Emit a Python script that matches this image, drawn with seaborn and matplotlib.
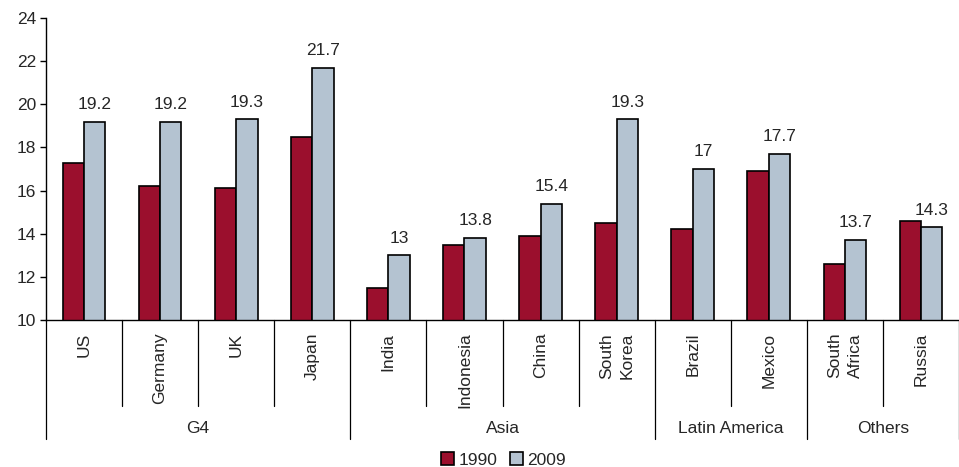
import matplotlib
matplotlib.use("Agg")
import matplotlib.pyplot as plt
import seaborn as sns
import pandas as pd
from matplotlib.patches import Patch

countries = ["US", "Germany", "UK", "Japan", "India", "Indonesia", "China",
             "South\nKorea", "Brazil", "Mexico", "South\nAfrica", "Russia"]
values_1990 = [17.3, 16.2, 16.1, 18.5, 11.5, 13.5, 13.9, 14.5, 14.2, 16.9, 12.6, 14.6]
values_2009 = [19.2, 19.2, 19.3, 21.7, 13.0, 13.8, 15.4, 19.3, 17.0, 17.7, 13.7, 14.3]
label_2009 = ["19.2", "19.2", "19.3", "21.7", "13", "13.8", "15.4", "19.3",
              "17", "17.7", "13.7", "14.3"]
groups = ["G4", "Asia", "Latin America", "Others"]
group_sizes = [4, 4, 2, 2]
years = ["1990", "2009"]
colors = ["#9B0F2D", "#B4C3D1"]

df = pd.DataFrame({
    "country": countries * 2,
    "value": values_1990 + values_2009,
    "year": ["1990"] * len(countries) + ["2009"] * len(countries),
})

sns.set_style("white")
plt.rcParams["font.family"] = ["Liberation Sans", "DejaVu Sans"]
FS = 12.5
plt.rcParams["font.size"] = FS

fig = plt.figure(figsize=(9.59, 4.67), dpi=100)
ax = fig.add_axes([46 / 959, 1 - 320 / 467, 1 - 46 / 959, (320 - 18) / 467])

sns.barplot(data=df, x="country", y="value", hue="year", order=countries,
            hue_order=years, palette=colors, saturation=1, edgecolor="black",
            linewidth=1.2, width=0.56, gap=0, errorbar=None, legend=False,
            ax=ax)

ax.set_ylim(10, 24)
ax.set_xlim(-0.5, len(countries) - 0.5)
ax.set_yticks(range(10, 25, 2))
ax.set_xlabel("")
ax.set_ylabel("")
ax.set_xticks([])
for side in ("top", "right"):
    ax.spines[side].set_visible(False)
for side in ("left", "bottom"):
    ax.spines[side].set_color("black")
    ax.spines[side].set_linewidth(1)
ax.tick_params(axis="y", direction="out", length=4, width=1, color="black",
               left=True, labelsize=FS, pad=3)

# value labels above the 2009 bars
for i, (v, t) in enumerate(zip(values_2009, label_2009)):
    ax.text(i + 0.14, v + 0.45, t, ha="center", va="bottom", fontsize=FS)

trans = ax.get_xaxis_transform()
cat_bottom = -0.284
grp_bottom = -0.394

# category labels and separators
for i, c in enumerate(countries):
    ax.text(i, -0.042, c, rotation=90, ha="center", va="top", transform=trans,
            fontsize=FS, linespacing=1.45, multialignment="center")
boundaries = []
pos = 0
for s in group_sizes:
    boundaries.append(pos)
    pos += s
boundaries.append(pos)
for i in range(len(countries) + 1):
    x = i - 0.5
    bottom = grp_bottom if i in boundaries else cat_bottom
    ax.plot([x, x], [0, bottom], color="black", lw=0.9, transform=trans,
            clip_on=False)

# group labels
for g, a, b in zip(groups, boundaries[:-1], boundaries[1:]):
    ax.text((a + b - 1) / 2, -0.358, g, ha="center", va="center",
            transform=trans, fontsize=FS)

handles = [Patch(facecolor=col, edgecolor="black", linewidth=1.2, label=y)
           for col, y in zip(colors, years)]
fig.legend(handles=handles, loc="lower center", bbox_to_anchor=(0.525, -0.035),
           ncol=2, frameon=False, fontsize=FS, handlelength=0.75,
           handleheight=0.75, handletextpad=0.25, columnspacing=0.7)

fig.savefig("out.png", dpi=100)
